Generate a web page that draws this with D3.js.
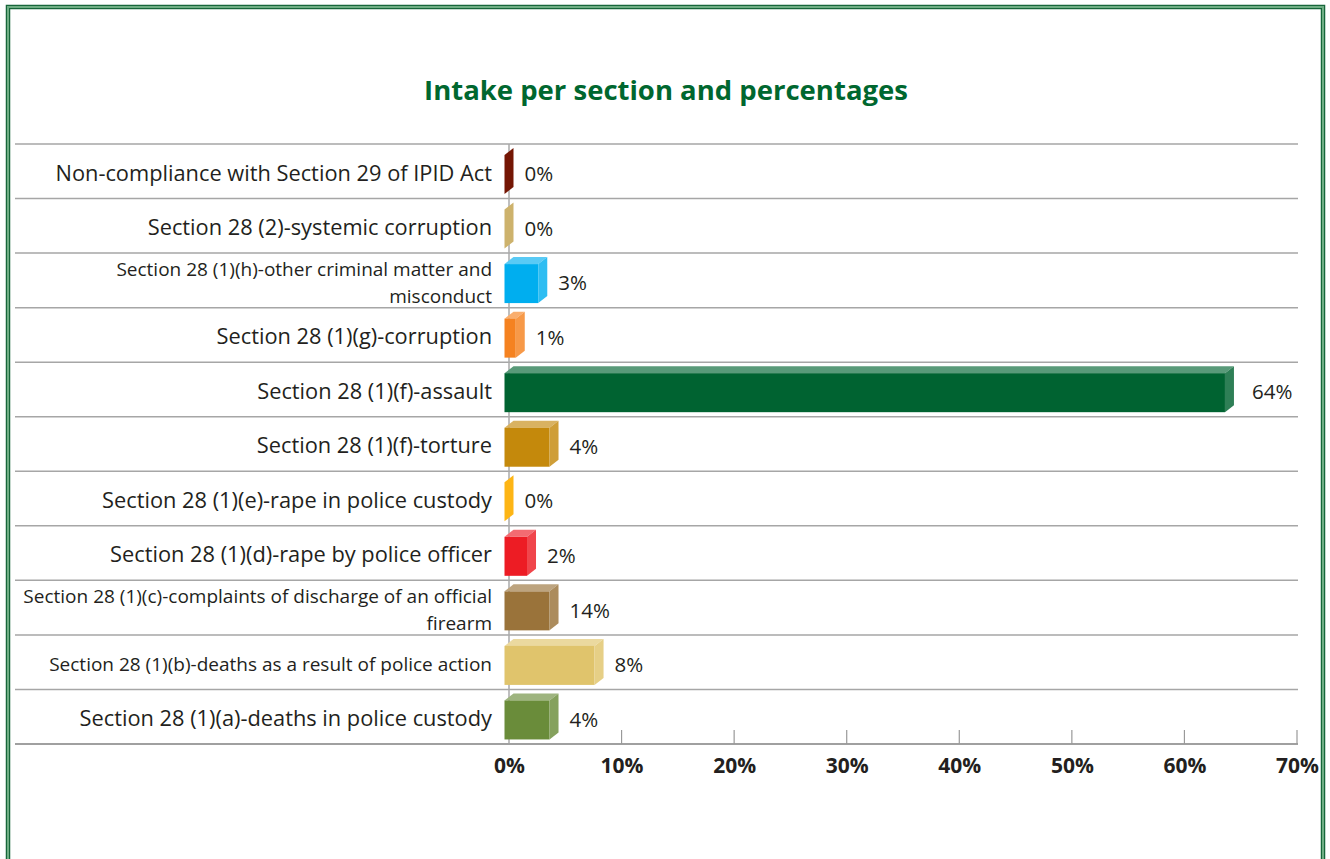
<!DOCTYPE html>
<html>
<head>
<meta charset="utf-8">
<script src="https://cdn.jsdelivr.net/npm/d3@7"></script>
<style>
  html, body { margin: 0; padding: 0; background: #fff; }
  svg { display: block; font-family: "Open Sans", "Noto Sans", sans-serif; }
</style>
</head>
<body>
<svg width="1330" height="859"></svg>
<script>
var categories = [
    "Non-compliance with Section 29 of IPID Act",
    "Section 28 (2)-systemic corruption",
    "Section 28 (1)(h)-other criminal matter and\nmisconduct",
    "Section 28 (1)(g)-corruption",
    "Section 28 (1)(f)-assault",
    "Section 28 (1)(f)-torture",
    "Section 28 (1)(e)-rape in police custody",
    "Section 28 (1)(d)-rape by police officer",
    "Section 28 (1)(c)-complaints of discharge of an official\nfirearm",
    "Section 28 (1)(b)-deaths as a result of police action",
    "Section 28 (1)(a)-deaths in police custody"
];
// bar lengths as drawn (percent)
var values = [0, 0, 3, 1, 64, 4, 0, 2, 4, 8, 4];
// labels as printed next to the bars
var valueLabels = ["0%", "0%", "3%", "1%", "64%", "4%", "0%", "2%", "14%", "8%", "4%"];
var barColors = ["#741604", "#cdb26c", "#00aeef", "#f58220", "#006331", "#c4890c",
                 "#fdb515", "#ed1c24", "#9a733a", "#e0c46c", "#6a8c3a"];
var ticks = [0, 10, 20, 30, 40, 50, 60, 70];
var smallRows = [2, 8, 9];

var svg = d3.select("svg");

// frame
svg.append("rect")
    .attr("x", 8).attr("y", 7).attr("width", 1315).attr("height", 900)
    .attr("fill", "none").attr("stroke", "#17663a").attr("stroke-width", 4.5);
svg.append("rect")
    .attr("x", 8).attr("y", 7).attr("width", 1315).attr("height", 900)
    .attr("fill", "none").attr("stroke", "#6fae84").attr("stroke-width", 2);

svg.append("text")
    .attr("x", 666).attr("y", 100)
    .attr("text-anchor", "middle")
    .attr("font-size", 27.5).attr("font-weight", "bold")
    .attr("fill", "#00672f")
    .text("Intake per section and percentages");

var x = d3.scaleLinear().domain([0, 70]).range([509, 1297]);
var y = d3.scaleBand().domain(d3.range(categories.length)).range([144, 744]);

var left = 15, right = 1298;

// grid lines between rows
svg.append("g").selectAll("line")
    .data(d3.range(categories.length))
    .enter().append("line")
    .attr("x1", left).attr("x2", right)
    .attr("y1", function (d) { return y(d); })
    .attr("y2", function (d) { return y(d); })
    .attr("stroke", "#a6a6a6").attr("stroke-width", 1.5);

// value axis line
svg.append("line")
    .attr("x1", x(0)).attr("x2", x(0))
    .attr("y1", 144).attr("y2", 744)
    .attr("stroke", "#aaaaaa").attr("stroke-width", 1.5);

// bottom axis
var axis = d3.axisBottom(x)
    .tickValues(ticks)
    .tickSize(0)
    .tickPadding(14)
    .tickFormat(function (d) { return d + "%"; });
var ax = svg.append("g").attr("transform", "translate(0,744)").call(axis);
ax.select(".domain").remove();
ax.selectAll("text")
    .attr("font-family", "'Open Sans', sans-serif")
    .attr("font-size", 21).attr("font-weight", "bold").attr("fill", "#231f20");
svg.append("line")
    .attr("x1", left).attr("x2", right)
    .attr("y1", 744).attr("y2", 744)
    .attr("stroke", "#a0a0a0").attr("stroke-width", 2);
svg.append("g").selectAll("line")
    .data(ticks.slice(1))
    .enter().append("line")
    .attr("x1", function (d) { return x(d); })
    .attr("x2", function (d) { return x(d); })
    .attr("y1", 730).attr("y2", 744)
    .attr("stroke", "#999").attr("stroke-width", 1.2);

// 3d bars
var dx = 9, dy = 7, half = 4.5;
function mix(c, t) {
    return d3.interpolateRgb(c, "#ffffff")(t);
}
var bars = svg.append("g").selectAll("g")
    .data(values)
    .enter().append("g");

bars.each(function (v, i) {
    var g = d3.select(this);
    var y0 = y(i);
    var fx0 = x(0) - half, fx1 = x(v) - half;
    var ft = y0 + 4 + dy, fb = y0 + 50;
    var c = barColors[i];
    if (v > 0) {
        // top face
        g.append("path")
            .attr("d", "M" + fx0 + "," + ft + "L" + (fx0 + dx) + "," + (ft - dy) +
                "L" + (fx1 + dx) + "," + (ft - dy) + "L" + fx1 + "," + ft + "Z")
            .attr("fill", mix(c, 0.35));
        // front face
        g.append("rect")
            .attr("x", fx0).attr("y", ft)
            .attr("width", fx1 - fx0).attr("height", fb - ft)
            .attr("fill", c);
    }
    // side face
    g.append("path")
        .attr("d", "M" + fx1 + "," + ft + "L" + (fx1 + dx) + "," + (ft - dy) +
            "L" + (fx1 + dx) + "," + (fb - dy) + "L" + fx1 + "," + fb + "Z")
        .attr("fill", v > 0 ? mix(c, 0.18) : c);
});

// value labels
svg.append("g").selectAll("text")
    .data(values)
    .enter().append("text")
    .attr("x", function (d) { return x(d) + half + (d > 20 ? 18 : 11); })
    .attr("y", function (d, i) { return y(i) + 30; })
    .attr("dy", "0.35em")
    .attr("font-size", 20.5).attr("fill", "#231f20")
    .text(function (d, i) { return valueLabels[i]; });

// category labels
var cl = svg.append("g").selectAll("text")
    .data(categories)
    .enter().append("text")
    .attr("text-anchor", "end")
    .attr("fill", "#231f20")
    .attr("font-size", function (d, i) { return smallRows.indexOf(i) >= 0 ? 19 : 21.8; })
    .attr("y", function (d, i) {
        var n = d.split("\n").length;
        return y(i) + 29 - (n - 1) * 13;
    });
cl.each(function (d) {
    var t = d3.select(this);
    d.split("\n").forEach(function (line, k) {
        t.append("tspan")
            .attr("x", 492)
            .attr("dy", k === 0 ? "0.35em" : 27)
            .text(line);
    });
});
</script>
</body>
</html>
